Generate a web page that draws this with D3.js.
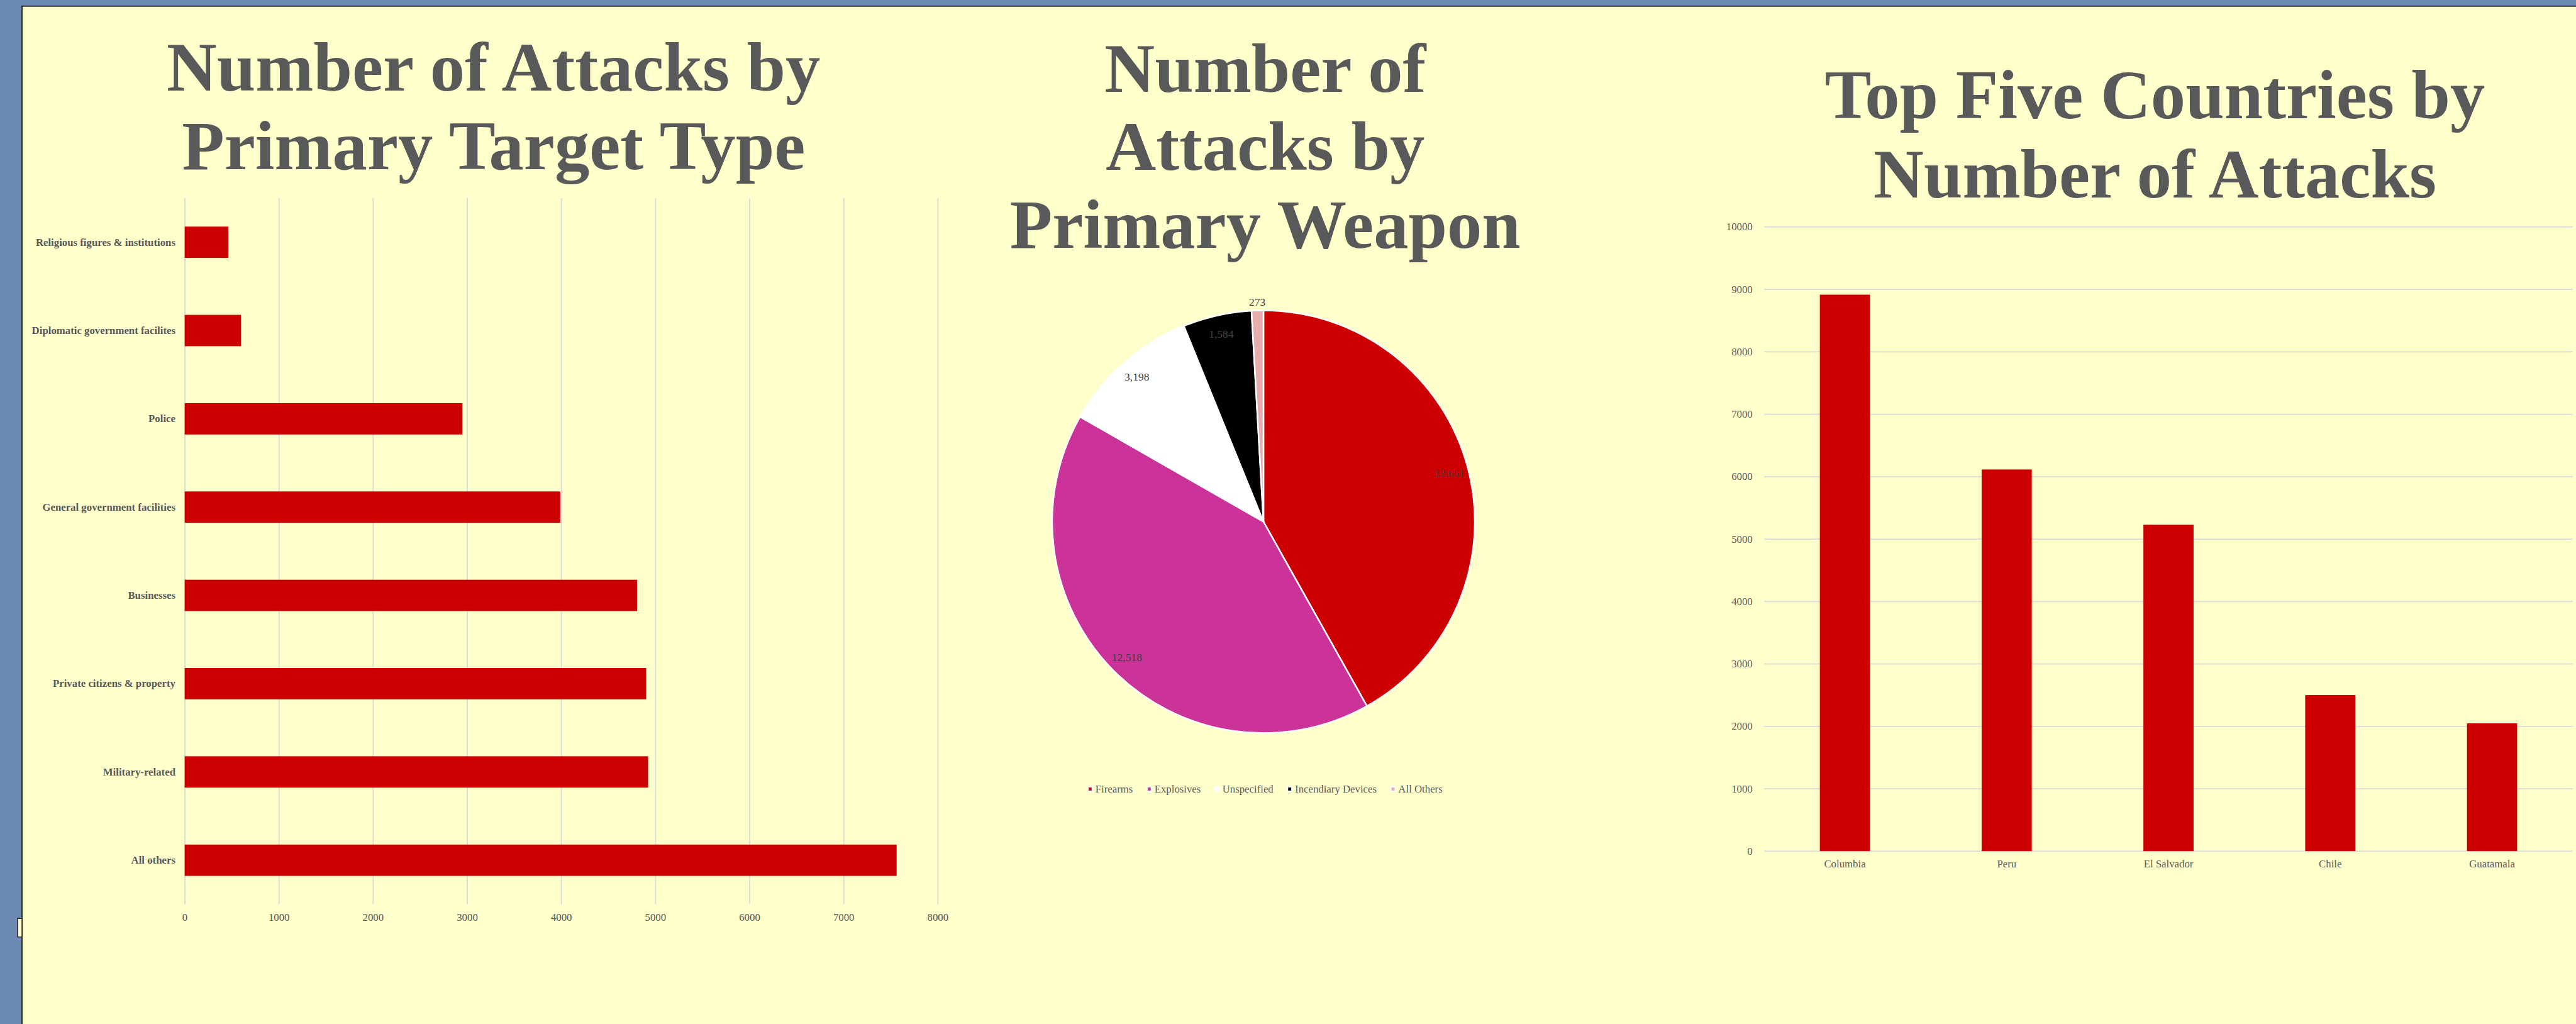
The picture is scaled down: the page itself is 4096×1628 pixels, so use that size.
<!DOCTYPE html>
<html>
<head>
<meta charset="utf-8">
<script src="https://cdn.jsdelivr.net/npm/d3@7"></script>
<style>
  html, body { margin: 0; padding: 0; background: #ffffcc; overflow: hidden; }
  svg { display: block; }
  text { font-family: "Liberation Serif", "Times New Roman", serif; fill: #595959; }
</style>
</head>
<body>
<svg id="chart"></svg>
<script>
(function () {
  'use strict';

  // ---- data ----
  var targetTypes = ["Religious figures & institutions", "Diplomatic government facilites", "Police",
                     "General government facilities", "Businesses", "Private citizens & property",
                     "Military-related", "All others"];
  var targetCounts = [463, 598, 2950, 3990, 4806, 4903, 4923, 7564];
  var targetTicks = [0, 1000, 2000, 3000, 4000, 5000, 6000, 7000, 8000];

  var weaponTypes = ["Firearms", "Explosives", "Unspecified", "Incendiary Devices", "All Others"];
  var weaponCounts = [12651, 12518, 3198, 1584, 273];
  var weaponColors = ["#cc0000", "#cc3399", "#ffffff", "#000000", "#e6aeae"];

  var countries = ["Columbia", "Peru", "El Salvador", "Chile", "Guatamala"];
  var countryCounts = [8912, 6112, 5227, 2499, 2046];
  var countryTicks = [0, 1000, 2000, 3000, 4000, 5000, 6000, 7000, 8000, 9000, 10000];

  var titleLeft = ["Number of Attacks by", "Primary Target Type"];
  var titleMid = ["Number of", "Attacks by", "Primary Weapon"];
  var titleRight = ["Top Five Countries by", "Number of Attacks"];

  // everything is laid out in reference units, then scaled down
  var S = 0.7;
  var svg = d3.select("#chart")
      .attr("width", 4096)
      .attr("height", 1628);

  var root = svg.append("g").attr("transform", "scale(" + S + ")");

  ///////////////////////////////////////////////
  // frame
  ///////////////////////////////////////////////
  root.append("rect")
      .attr("x", 0).attr("y", 0)
      .attr("width", 5950).attr("height", 2400)
      .attr("fill", "#6b89b1");

  root.append("rect")
      .attr("x", 50).attr("y", 14)
      .attr("width", 5950).attr("height", 2400)
      .attr("fill", "#ffffcc")
      .attr("stroke", "#1b1b1b")
      .attr("stroke-width", 2.5);

  root.append("rect")
      .attr("x", 40).attr("y", 2086)
      .attr("width", 10).attr("height", 42)
      .attr("fill", "#ffffcc")
      .attr("stroke", "#1b1b1b")
      .attr("stroke-width", 2);

  function drawTitle(lines, cx, y0, lineStep) {
    root.append("g").selectAll("text")
        .data(lines)
        .enter().append("text")
          .attr("x", cx)
          .attr("y", function(d, i) { return y0 + i * lineStep; })
          .attr("text-anchor", "middle")
          .style("font-size", "158px")
          .style("font-weight", "bold")
          .text(function(d) { return d; });
  }

  function styleGrid(g) {
    g.select(".domain").remove();
    g.selectAll(".tick line")
        .attr("stroke", "#d9d9d9")
        .attr("stroke-width", 2.5);
    g.selectAll(".tick text")
        .style("font-size", "24px")
        .attr("fill", "#595959");
  }

  ///////////////////////////////////////////////
  // left: horizontal bars by target type
  ///////////////////////////////////////////////
  drawTitle(titleLeft, 1121, 205, 179);

  var x1 = d3.scaleLinear().domain([0, 8000]).range([419.5, 2130]);
  var y1 = d3.scaleBand().domain(targetTypes).range([450, 2054]).padding(0);
  var barH1 = y1.bandwidth() * 0.355;

  root.append("g")
      .attr("transform", "translate(0," + 2054 + ")")
      .call(d3.axisBottom(x1)
              .tickValues(targetTicks)
              .tickSize(-(2054 - 450))
              .tickPadding(21)
              .tickFormat(d3.format("d")))
      .call(styleGrid);

  root.append("g")
      .attr("transform", "translate(" + x1(0) + ",0)")
      .call(d3.axisLeft(y1).tickSize(0).tickPadding(21))
      .call(function(g) {
        g.select(".domain").remove();
        g.selectAll(".tick text")
            .style("font-size", "24px")
            .style("font-weight", "bold")
            .attr("fill", "#595959");
      });

  root.append("g").selectAll("rect")
      .data(targetCounts)
      .enter().append("rect")
        .attr("x", x1(0))
        .attr("y", function(d, i) { return y1(targetTypes[i]) + (y1.bandwidth() - barH1) / 2; })
        .attr("width", function(d) { return x1(d) - x1(0); })
        .attr("height", barH1)
        .attr("fill", "#cc0000");

  ///////////////////////////////////////////////
  // middle: pie by weapon
  ///////////////////////////////////////////////
  drawTitle(titleMid, 2874, 209, 177);

  var cx = 2870, cy = 1185, radius = 480;
  var pie = d3.pie().sort(null).value(function(d) { return d; });
  var arcs = pie(weaponCounts);
  var arc = d3.arc().innerRadius(0).outerRadius(radius);

  var pieG = root.append("g").attr("transform", "translate(" + cx + "," + cy + ")");

  pieG.selectAll("path")
      .data(arcs)
      .enter().append("path")
        .attr("d", arc)
        .attr("fill", function(d, i) { return weaponColors[i]; })
        .attr("stroke", "#ffffff")
        .attr("stroke-width", 3.5);

  pieG.selectAll("text")
      .data(arcs)
      .enter().append("text")
        .attr("transform", function(d) {
          // thin slices get their label pushed outside the pie
          var r = (d.endAngle - d.startAngle) < 0.15 ? radius + 20 : radius * 0.91;
          var a = (d.startAngle + d.endAngle) / 2;
          return "translate(" + (r * Math.sin(a)) + "," + (-r * Math.cos(a)) + ")";
        })
        .attr("text-anchor", "middle")
        .attr("dy", "0.35em")
        .style("font-size", "25px")
        .style("fill", "#404040")
        .text(function(d) { return d3.format(",")(d.value); });

  // legend
  var legend = root.append("g");
  var item = legend.selectAll("g")
      .data(weaponTypes)
      .enter().append("g");

  item.append("rect")
      .attr("x", 0).attr("y", -5)
      .attr("width", 10).attr("height", 10)
      .attr("fill", function(d, i) { return weaponColors[i]; })
      .attr("stroke", "#ffffff")
      .attr("stroke-width", 3);

  item.append("text")
      .attr("x", 17)
      .attr("dy", "0.35em")
      .style("font-size", "24px")
      .text(function(d) { return d; });

  var lx = 0;
  item.each(function() {
    var w = 17 + d3.select(this).select("text").node().getComputedTextLength();
    d3.select(this).attr("transform", "translate(" + lx + ",0)");
    lx += w + 32;
  });
  lx -= 32;
  legend.attr("transform", "translate(" + (2874 - lx / 2) + "," + 1792 + ")");

  ///////////////////////////////////////////////
  // right: columns by country
  ///////////////////////////////////////////////
  drawTitle(titleRight, 4895, 268, 180);

  var x3 = d3.scaleBand().domain(countries).range([4007, 5844.5]).padding(0);
  var y3 = d3.scaleLinear().domain([0, 10000]).range([1933, 515]);
  var barW3 = x3.bandwidth() * 0.31;

  root.append("g")
      .attr("transform", "translate(" + 4007 + ",0)")
      .call(d3.axisLeft(y3)
              .tickValues(countryTicks)
              .tickSize(-(5844.5 - 4007))
              .tickPadding(26)
              .tickFormat(d3.format("d")))
      .call(styleGrid);

  root.append("g")
      .attr("transform", "translate(0," + 1933 + ")")
      .call(d3.axisBottom(x3).tickSize(0).tickPadding(20))
      .call(function(g) {
        g.select(".domain").remove();
        g.selectAll(".tick text")
            .style("font-size", "24px")
            .attr("fill", "#595959");
      });

  root.append("g").selectAll("rect")
      .data(countryCounts)
      .enter().append("rect")
        .attr("x", function(d, i) { return x3(countries[i]) + (x3.bandwidth() - barW3) / 2; })
        .attr("y", function(d) { return y3(d); })
        .attr("width", barW3)
        .attr("height", function(d) { return y3(0) - y3(d); })
        .attr("fill", "#cc0000");

}());
</script>
</body>
</html>
